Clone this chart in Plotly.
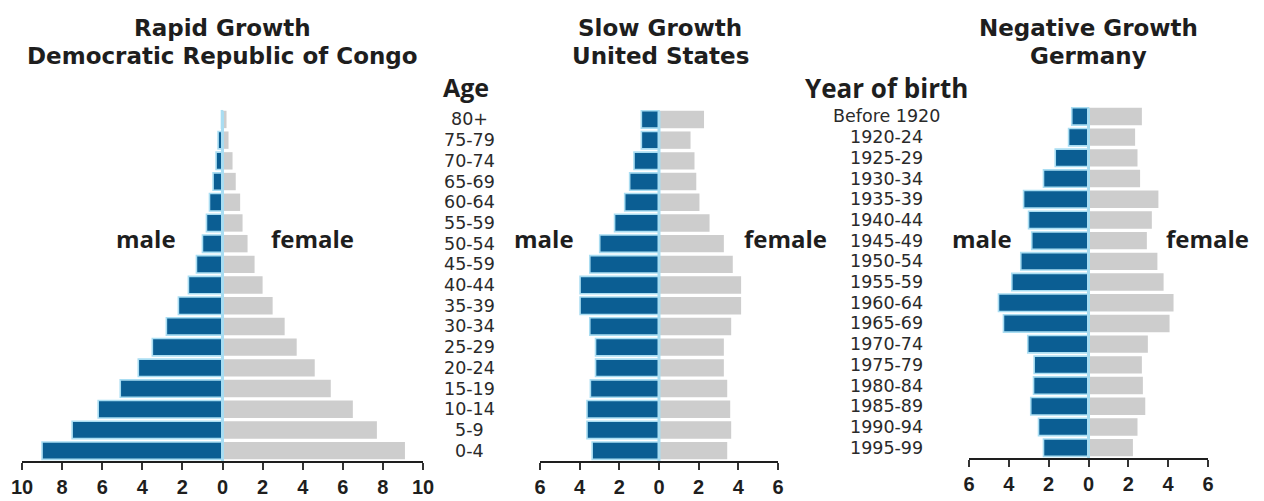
import plotly.graph_objects as go

# Age groups, youngest first (bottom of the pyramid)
ages = ["0-4", "5-9", "10-14", "15-19", "20-24", "25-29", "30-34", "35-39",
        "40-44", "45-59", "50-54", "55-59", "60-64", "65-69", "70-74",
        "75-79", "80+"]
# Year-of-birth cohorts for Germany, youngest first
births = ["1995-99", "1990-94", "1985-89", "1980-84", "1975-79", "1970-74",
          "1965-69", "1960-64", "1955-59", "1950-54", "1945-49", "1940-44",
          "1935-39", "1930-34", "1925-29", "1920-24", "Before 1920"]

# Share of population (%) per group
congo_male = [9.0, 7.5, 6.2, 5.1, 4.2, 3.5, 2.8, 2.2, 1.7, 1.3, 1.0, 0.8,
              0.65, 0.47, 0.32, 0.22, 0.05]
congo_female = [9.1, 7.7, 6.5, 5.4, 4.6, 3.7, 3.1, 2.5, 2.0, 1.6, 1.25, 1.0,
                0.88, 0.66, 0.5, 0.3, 0.2]
us_male = [3.37, 3.63, 3.63, 3.46, 3.2, 3.2, 3.49, 3.98, 3.98, 3.49, 2.99,
           2.24, 1.73, 1.48, 1.26, 0.89, 0.89]
us_female = [3.44, 3.64, 3.59, 3.44, 3.27, 3.27, 3.64, 4.14, 4.14, 3.72,
             3.27, 2.55, 2.04, 1.88, 1.79, 1.59, 2.27]
de_male = [2.26, 2.51, 2.9, 2.76, 2.73, 3.05, 4.27, 4.52, 3.85, 3.4, 2.85,
           3.01, 3.26, 2.26, 1.67, 1.0, 0.84]
de_female = [2.23, 2.46, 2.85, 2.73, 2.68, 2.98, 4.07, 4.27, 3.77, 3.46,
             2.93, 3.18, 3.51, 2.59, 2.46, 2.34, 2.68]

titles = [["Rapid Growth", "Democratic Republic of Congo"],
          ["Slow Growth", "United States"],
          ["Negative Growth", "Germany"]]
ticks_wide = [-10, -8, -6, -4, -2, 0, 2, 4, 6, 8, 10]
ticks_narrow = [-6, -4, -2, 0, 2, 4, 6]

W, H = 1264, 501
BLUE = "#0b5e93"
EDGE = "#a9ddf2"
GREY = "#cdcdcd"
INK = "#1e1e1e"
FONT = "Open Sans"
TITLEFONT = "DejaVu Sans"
TICKFONT = "Liberation Sans"
ROWFONT = "DejaVu Sans"

panels = [
    dict(cats=ages, male=congo_male, female=congo_female, x0=22, x1=423,
         rng=10, ticks=ticks_wide, ybot=461, center=222),
    dict(cats=ages, male=us_male, female=us_female, x0=540, x1=778,
         rng=6, ticks=ticks_narrow, ybot=461, center=660),
    dict(cats=births, male=de_male, female=de_female, x0=969, x1=1208,
         rng=6, ticks=ticks_narrow, ybot=458, center=1088),
]
PITCH = 20.7

fig = go.Figure()
layout = {}
annotations = []
shapes = []

for i, p in enumerate(panels):
    n = "" if i == 0 else str(i + 1)
    xa, ya = "x" + n, "y" + n
    fig.add_trace(go.Bar(
        y=p["cats"], x=[-v for v in p["male"]], orientation="h",
        marker=dict(color=BLUE, line=dict(color=EDGE, width=1.6)),
        xaxis=xa, yaxis=ya, showlegend=False))
    fig.add_trace(go.Bar(
        y=p["cats"], x=p["female"], orientation="h",
        marker=dict(color=GREY, line=dict(width=0)),
        xaxis=xa, yaxis=ya, showlegend=False))

    top = p["ybot"] - PITCH * len(p["cats"])
    layout["xaxis" + n] = dict(
        domain=[p["x0"] / W, p["x1"] / W], anchor=ya, automargin=False,
        range=[-p["rng"], p["rng"]], fixedrange=True,
        tickvals=p["ticks"], ticktext=[str(abs(t)) for t in p["ticks"]],
        showgrid=False, zeroline=False, showline=True,
        linecolor=INK, linewidth=2,
        ticks="outside", ticklen=7, tickwidth=2, tickcolor="#333",
        tickfont=dict(family=TICKFONT, size=20, color=INK, weight="bold"),
        ticklabelstandoff=0)
    layout["yaxis" + n] = dict(
        domain=[(H - p["ybot"]) / H, (H - top) / H], anchor=xa,
        automargin=False,
        type="category", categoryorder="array", categoryarray=p["cats"],
        range=[-0.5, len(p["cats"]) - 0.5], visible=False, fixedrange=True)

    # light centre divider between the sexes
    shapes.append(dict(type="line", xref=xa, yref=ya, x0=0, x1=0,
                       y0=-0.5, y1=len(p["cats"]) - 0.6,
                       line=dict(color=EDGE, width=3), layer="above"))

    # two-line panel heading
    for txt, yc in zip(titles[i], [28.5, 56]):
        annotations.append(dict(
            text=txt, xref="paper", yref="paper", x=p["center"] / W,
            y=1 - yc / H, xanchor="center", yanchor="middle",
            showarrow=False, borderpad=0,
            font=dict(family=TITLEFONT, size=23, color=INK, weight="bold")))

# sex labels beside each pyramid
sex_labels = [("male", 146, "female", 312), ("male", 544, "female", 785),
              ("male", 982, "female", 1207)]
for m, mx, f, fx in sex_labels:
    for txt, x in ((m, mx), (f, fx)):
        annotations.append(dict(
            text=txt, xref="paper", yref="paper", x=x / W, y=1 - 239 / H,
            xanchor="center", yanchor="middle", showarrow=False, borderpad=0,
            font=dict(family=FONT, size=24, color=INK, weight="bold")))

# column headings for the row labels
annotations.append(dict(text="Age", xref="paper", yref="paper", x=466 / W,
                        y=1 - 87 / H, xanchor="center", yanchor="middle",
                        showarrow=False, borderpad=0,
                        font=dict(family=FONT, size=25, color=INK,
                                  weight="bold")))
annotations.append(dict(text="Year of birth", xref="paper", yref="paper",
                        x=886 / W, y=1 - 88 / H, xanchor="center",
                        yanchor="middle", showarrow=False, borderpad=0,
                        font=dict(family=FONT, size=26, color=INK,
                                  weight="bold")))
# row labels between the panels
for a in ages:
    annotations.append(dict(text=a, xref="paper", yref="y2", x=469 / W, y=a,
                            xanchor="center", yanchor="middle",
                            showarrow=False, borderpad=0,
                            font=dict(family=ROWFONT, size=17.5,
                                      color="#2a2a2a")))
for b in births:
    annotations.append(dict(text=b, xref="paper", yref="y3", x=886 / W, y=b,
                            xanchor="center", yanchor="middle",
                            showarrow=False, borderpad=0,
                            font=dict(family=ROWFONT, size=17.5,
                                      color="#2a2a2a")))

fig.update_layout(
    width=W, height=H, margin=dict(l=0, r=0, t=0, b=0),
    paper_bgcolor="white", plot_bgcolor="white",
    barmode="relative", bargap=0.16,
    annotations=annotations, shapes=shapes, **layout)

fig.write_html("out.html", config={"displayModeBar": False})
